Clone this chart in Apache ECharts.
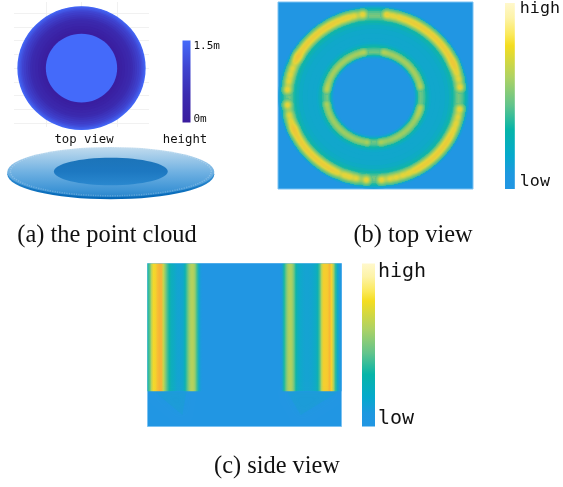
<!DOCTYPE html>
<html><head><meta charset="utf-8">
<style>html,body{margin:0;padding:0;background:#fff}#c{width:563px;height:487px}</style>
<script src="https://cdn.jsdelivr.net/npm/echarts@6/dist/echarts.min.js"></script>
</head><body><div id="c"></div>
<script>
// ---------- (a) point cloud ----------
const heightBands = [[1.80,1.5],[1.78,1.38],[1.75,1.25],[1.71,1.12],[1.67,1.0],[1.62,0.87],[1.56,0.74],[1.50,0.62],[1.44,0.5],[1.38,0.4],[1.30,0.3],[1.22,0.2],[1.14,0.12],[1.07,0.05],[1.0,1.5]];
const heightColors = ['#3a1c9e','#3b2bb0','#3f44d0','#446afa'];
const heightTicks = [1.4,0.07];
const heightLabels = ['1.5m','0m'];
const gridTicksX = [-1,0,1];
const gridTicksY = [-1.6,-1.2,-0.8,-0.4,0,0.4,0.8,1.2,1.6];
const plateDiscs = [[1,-0.09],[1,0],[0.97,0.02],[0.55,0.02]];
// ---------- (b) top view ----------
const ringCenter = [-0.017,-0.016];
const ringBands = [[0.98,0.06],[0.965,0.15],[0.95,0.24],[0.935,0.32],[0.92,0.39],[0.9,0.44],[0.88,0.47],[0.86,0.44],[0.845,0.39],[0.83,0.33],[0.815,0.27],[0.795,0.21],[0.77,0.16],[0.73,0.13],[0.68,0.12],[0.63,0.12],[0.59,0.14],[0.57,0.2],[0.55,0.28],[0.53,0.36],[0.51,0.42],[0.49,0.45],[0.47,0.4],[0.455,0.3],[0.44,0.15],[0.425,0.04],[0.41,0]];
const outerTL = [7.3,12.8,17,20.6,24.4,28,31.5,35,38.5,42,45.5,49,52.5,56,59.5,61.5,64.8,69.8,74.5,79.3,85];
const outerTR = [8.4,12.8,17,20.8,24.5,28,31.5,35,38.5,42,45.5,49,52.5,56,59.5,63,66,69,72.9,77.6,83.3];
const outerBL = [5,11.5,16,20,24.8,28.5,32,35.5,39,42.5,46,49.5,53,56.5,60,63.5,66.5,69,73,77.7,84.5];
const outerBR = [5,10.5,15,19.6,23.9,28,31.5,35,38.5,42,45.5,49,52.5,56,59.5,63,67,71.4,76.2,81.7];
const innerTL = [11.5,17,22.5,28,33.5,39,44.5,50,55.5,61,66.5,72,76.5,81.4];
const innerTR = [11.5,17,22.5,28,33.5,39,44.5,50,55.5,61,66.5,72,77.6];
const innerBL = [8,15,21,27,33,39,45,51,57,63,69,75,81.4];
const innerBR = [8,14.5,21,27,33,39,45,51,57,63,68,72.5,77.6];
const outerEndValue = 1, outerBeadValue = 0.9, innerEndValue = 0.78, innerBeadValue = 0.6;
// ---------- (c) side view ----------
const sideProfile = [0.3,0.4,0.6,0.74,0.76,0.84,0.92,0.9,0.62,0.5,0.38,0.28,0.2,0.17,0.13,0.1,0.09,0.1,0.13,0.24,0.4,0.52,0.58,0.58,0.52,0.36,0.14,0.02,
 0,0,0,0,0,0,0,0,0,0,0,0,0,0,0,0,0,0,0,0,0,0,0,0,0,0,0,0,0,0,0,0,0,0,0,0,0,0,0,0,
 0.06,0.3,0.45,0.55,0.58,0.55,0.45,0.28,0.18,0.14,0.12,0.1,0.09,0.09,0.1,0.11,0.13,0.16,0.24,0.4,0.62,0.78,0.78,0.8,0.9,0.76,0.56,0.34,0.14,0.04,0];
const stripeExtent = [0,0,100,78.4];
const sideGlows = [[4,79,20,79,18,93],[72,79,98,79,79,93]];
// ---------- colours and labels ----------
const fieldColors = ['#2196e3','#0eaac8','#10b5a5','#64c488','#b0d060','#f2de28','#f8bb36','#f5a83a'];
const beadColors = ['rgba(30,175,170,0)','rgba(110,198,125,0.8)','#aecf58','#f0d632','#f8b838'];
const barStops = [[0,'#fff8cc'],[0.08,'#fdf3a8'],[0.17,'#fbe95a'],[0.23,'#f4dd20'],[0.4,'#aed264'],[0.55,'#62c48c'],[0.68,'#06b5a8'],[0.82,'#05a9cc'],[0.92,'#1e98e0'],[1,'#2196e3']];
const sideTicks = [0.95,0.05];
const topTicks = [0.97,0.04];
const barLabels = ['high','low'];
const captions = [['(a) the point cloud',107,236],['(b) top view',413,236],['(c) side view',277,467]];
const viewLabels = [['top view',84,140,12.3],['height',185,140,12.3]];

echarts.registerMap('panel',{type:'FeatureCollection',features:[{type:'Feature',properties:{name:'p'},geometry:{type:'Polygon',coordinates:[[[-1,-1],[1,-1],[1,1],[-1,1],[-1,-1]]]}}]});

function addBeads(out,list,sx,sy,r,endV,v){list.forEach((d,i)=>{
  const a=d*Math.PI/180;
  out.push([ringCenter[0]+sx*r*Math.sin(a),ringCenter[1]+sy*r*Math.cos(a),(i===0||i===list.length-1)?endV:v]);
});}
const outerBeads=[],innerBeads=[];
addBeads(outerBeads,outerTL,-1,1,0.89,outerEndValue,outerBeadValue);
addBeads(outerBeads,outerTR,1,1,0.89,outerEndValue,outerBeadValue);
addBeads(outerBeads,outerBL,-1,-1,0.89,outerEndValue,outerBeadValue);
addBeads(outerBeads,outerBR,1,-1,0.89,outerEndValue,outerBeadValue);
addBeads(innerBeads,innerTL,-1,1,0.49,innerEndValue,innerBeadValue);
addBeads(innerBeads,innerTR,1,1,0.49,innerEndValue,innerBeadValue);
addBeads(innerBeads,innerBL,-1,-1,0.49,innerEndValue,innerBeadValue);
addBeads(innerBeads,innerBR,1,-1,0.49,innerEndValue,innerBeadValue);

const vGrad=(list)=>new echarts.graphic.LinearGradient(0,0,0,1,list.map(s=>({offset:s[0],color:s[1]})));
function discItem(center){return function(p,api){
  const r=api.value(0),c=api.coord(center),s=api.size([2*r,2*r],center);
  return {type:'ellipse',shape:{cx:c[0],cy:c[1],rx:s[0]/2,ry:s[1]/2},style:{fill:api.visual('color')}};
};}
function plateItem(p,api){
  const r=api.value(0),ctr=[0,api.value(1)],c=api.coord(ctr),s=api.size([2*r,2*r],ctr);
  const styles=[{fill:vGrad([[0,'#5da8dc'],[0.6,'#2a88cf'],[0.85,'#0d70bd'],[1,'#0567b6'] ])},
    {fill:vGrad([[0,'#c2dcee'],[0.5,'#70b1e2'],[0.85,'#3f95d6'],[1,'#2a86cc']])},
    {fill:'none',stroke:'rgba(255,255,255,0.22)',lineWidth:1.5,lineDash:[1.2,1.2]},
    {fill:vGrad([[0,'#1c74b9'],[0.5,'#1d78c1'],[1,'#2a88cf']])}];
  return {type:'ellipse',shape:{cx:c[0],cy:c[1],rx:s[0]/2,ry:s[1]/2},style:styles[p.dataIndex]};
}
function barItem(stops){return function(p,api){
  const a=api.coord([api.value(0),api.value(1)]),b=api.coord([api.value(2),api.value(3)]);
  return {type:'rect',shape:{x:a[0],y:a[1],width:b[0]-a[0],height:b[1]-a[1]},style:{fill:vGrad(stops)}};
};}
function stripesItem(p,api){
  const a=api.coord([api.value(0),api.value(1)]),b=api.coord([api.value(2),api.value(3)]);
  const n=sideProfile.length-1;
  const fill=new echarts.graphic.LinearGradient(0,0,1,0,sideProfile.map((v,i)=>({offset:i/n,color:echarts.color.lerp(v,fieldColors)})));
  return {type:'rect',shape:{x:a[0],y:a[1],width:b[0]-a[0],height:b[1]-a[1]},style:{fill:fill}};
}
function glowItem(p,api){
  const pts=[0,2,4].map(i=>api.coord([api.value(i),api.value(i+1)]));
  return {type:'polygon',shape:{points:pts},style:{fill:'rgba(10,175,175,0.18)',shadowBlur:8,shadowColor:'rgba(10,175,175,0.3)'}};
}

const grids=[
 {left:14,top:2,width:135,height:125,show:false},                 // 0 top-down disc
 {left:7.3,top:147,width:207,height:50,show:false},               // 1 plate
 {left:182.5,top:40.5,width:8,height:82,show:false},              // 2 height bar
 {left:278,top:2,width:195,height:187,show:true,backgroundColor:fieldColors[0],borderColor:'#7cc2f2',borderWidth:1}, // 3 field top
 {left:505,top:1,width:14,height:188,show:false},                 // 4 top bar
 {left:147.5,top:263.5,width:194,height:163,show:true,backgroundColor:fieldColors[0],borderColor:'#7cc2f2',borderWidth:1}, // 5 side field
 {left:362,top:263.5,width:13,height:163,show:false}              // 6 side bar
];
const hidden={show:false};
const plainV=(g,mn,mx,inv)=>({type:'value',gridIndex:g,min:mn,max:mx,show:false,inverse:!!inv});
const barY=(g,mn,mx,ticks,labels,size,margin)=>({type:'value',gridIndex:g,min:mn,max:mx,position:'right',
  axisLine:hidden,splitLine:hidden,axisTick:{show:false,customValues:ticks},
  axisLabel:{customValues:ticks,margin:margin,fontFamily:'DejaVu Sans Mono',fontSize:size,color:'#111',
    formatter:(v)=>labels[ticks.indexOf(v)],showMinLabel:true,showMaxLabel:true}});

const xAxes=[
 {type:'value',gridIndex:0,min:-1.893,max:1.893,axisLine:hidden,axisLabel:hidden,axisTick:{show:false,customValues:gridTicksX},splitLine:{show:true,lineStyle:{color:'#f1f1f1',width:1}}},
 plainV(1,-1,1),plainV(2,0,1),plainV(3,-1,1),plainV(4,0,1),plainV(5,0,100),plainV(6,0,1)
];
const yAxes=[
 {type:'value',gridIndex:0,min:-1.71,max:1.92,axisLine:hidden,axisLabel:hidden,axisTick:{show:false,customValues:gridTicksY},splitLine:{show:true,lineStyle:{color:'#f1f1f1',width:1}}},
 plainV(1,-1,1),
 barY(2,0,1.5,heightTicks,heightLabels,11,3),
 plainV(3,-1,1),
 barY(4,0,1,topTicks,barLabels,16.7,5),
 plainV(5,0,100,true),
 barY(6,0,1,sideTicks,barLabels,20,3)
];

const series=[];
const base={silent:true,animation:false,clip:false};
const sDisc=series.push({...base,type:'custom',xAxisIndex:0,yAxisIndex:0,renderItem:discItem([0,0]),encode:{x:0,y:1},data:heightBands,z:3})-1;
series.push({...base,type:'custom',xAxisIndex:1,yAxisIndex:1,renderItem:plateItem,encode:{x:0,y:1},data:plateDiscs,z:3});
series.push({...base,type:'custom',xAxisIndex:2,yAxisIndex:2,renderItem:barItem(heightColors.slice().reverse().map((c,k)=>[k/(heightColors.length-1),c])),data:[[0,1.5,1,0]],encode:{x:[0,2],y:[1,3]},z:3});
const sField=series.push({...base,type:'custom',xAxisIndex:3,yAxisIndex:3,renderItem:discItem(ringCenter),encode:{x:0,y:1},data:ringBands,z:3})-1;
const sOuter=series.push({...base,type:'heatmap',coordinateSystem:'geo',geoIndex:0,data:outerBeads,pointSize:4.5,blurSize:5,minOpacity:0.6,maxOpacity:1,z:6})-1;
const sInner=series.push({...base,type:'heatmap',coordinateSystem:'geo',geoIndex:0,data:innerBeads,pointSize:3.2,blurSize:4,minOpacity:0.6,maxOpacity:1,z:6})-1;
series.push({...base,type:'custom',xAxisIndex:4,yAxisIndex:4,renderItem:barItem(barStops),data:[[0,1,1,0]],encode:{x:[0,2],y:[1,3]},z:3});
series.push({...base,type:'custom',xAxisIndex:5,yAxisIndex:5,renderItem:stripesItem,data:[stripeExtent],encode:{x:[0,2],y:[1,3]},z:3});
series.push({...base,type:'custom',xAxisIndex:5,yAxisIndex:5,renderItem:glowItem,encode:{x:0,y:1},data:sideGlows,z:4});
series.push({...base,type:'custom',xAxisIndex:6,yAxisIndex:6,renderItem:barItem(barStops),data:[[0,1,1,0]],encode:{x:[0,2],y:[1,3]},z:3});

const option={
 animation:false,backgroundColor:'#fff',
 grid:grids,xAxis:xAxes,yAxis:yAxes,
 geo:{map:'panel',left:278,top:2,width:195,height:187,aspectScale:195/187,roam:false,silent:true,z:5,
   itemStyle:{areaColor:'rgba(0,0,0,0)',borderWidth:0},emphasis:{disabled:true},select:{disabled:true},label:{show:false}},
 visualMap:[
  {show:false,type:'continuous',seriesIndex:sDisc,dimension:1,min:0,max:1.5,inRange:{color:heightColors}},
  {show:false,type:'continuous',seriesIndex:sField,dimension:1,min:0,max:1,inRange:{color:fieldColors}},
  {show:false,type:'continuous',seriesIndex:[sOuter,sInner],dimension:2,min:0,max:1,inRange:{color:beadColors}}
 ],
 graphic:[...captions.map(c=>({type:'text',x:c[1],y:c[2],silent:true,style:{text:c[0],fill:'#111',font:'24.4px "Liberation Serif"',textAlign:'center',textVerticalAlign:'middle'}})),
  ...viewLabels.map(c=>({type:'text',x:c[1],y:c[2],silent:true,style:{text:c[0],fill:'#111',font:c[3]+'px "DejaVu Sans Mono"',textAlign:'center',textVerticalAlign:'middle'}}))],
 series:series
};
const chart=echarts.init(document.getElementById('c'),null,{renderer:'canvas'});
chart.setOption(option);
</script></body></html>
